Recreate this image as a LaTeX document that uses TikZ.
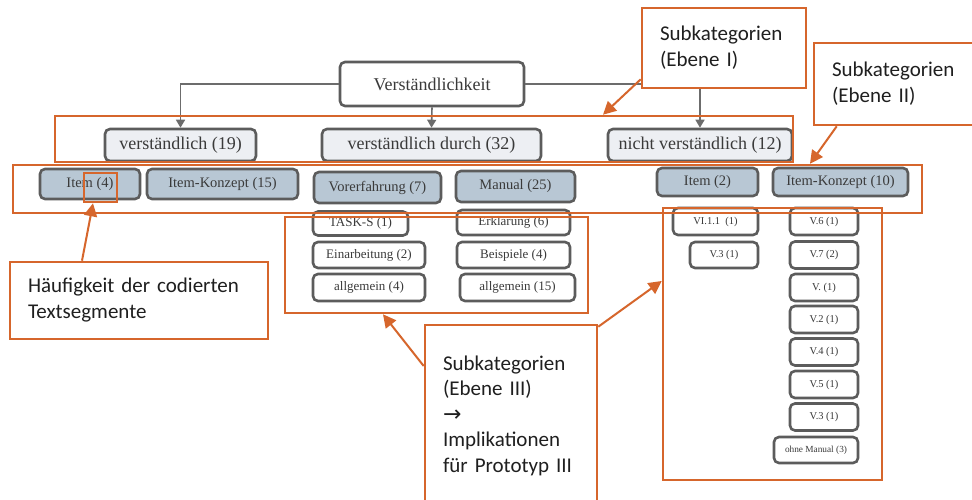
\documentclass[tikz,border=0pt]{standalone}
\usepackage{fontspec}
\setmainfont{Liberation Serif}
\newfontfamily\notefont{Carlito}
\newfontfamily\symfont{DejaVu Sans}
\usetikzlibrary{arrows.meta,calc}

\definecolor{hl}{RGB}{214,102,44}
\definecolor{frame}{RGB}{92,92,92}
\definecolor{pale}{RGB}{237,239,243}
\definecolor{steel}{RGB}{184,199,212}
\definecolor{ink}{RGB}{58,58,58}

\begin{document}
\begin{tikzpicture}[x=1pt,y=-1pt,
  cat/.style={draw=frame, line width=2.6pt, rounded corners=5pt, inner sep=0pt, text=ink},
  root/.style={cat, fill=white, minimum width=184pt, minimum height=44pt, font=\fontsize{18}{20}\selectfont},
  lvone/.style={cat, fill=pale, minimum height=32pt, font=\fontsize{18}{20}\selectfont},
  lvtwo/.style={cat, fill=steel, font=\fontsize{14.5}{16}\selectfont},
  lvthree/.style={cat, fill=white, font=\fontsize{13}{15}\selectfont},
  code/.style={cat, fill=white, minimum width=68pt, minimum height=27pt, font=\fontsize{10.5}{12}\selectfont},
  group/.style={draw=hl, line width=2.6pt, inner sep=0pt},
  note/.style={draw=hl, line width=2.6pt, fill=white, inner xsep=18pt, inner ysep=0pt,
    align=left, text=black!88, font=\notefont\fontsize{21}{26}\selectfont},
  link/.style={draw=frame!90, line width=1.6pt, -{Triangle[width=9pt,length=8pt]}},
  pointer/.style={draw=hl, line width=2pt, -{Triangle[width=13pt,length=13pt]}},
]
\useasboundingbox (0,0) rectangle (972,500);
\clip (0,0) rectangle (972,500);
\fill[white] (0,0) rectangle (972,500);

% root category
\node[root] (top) at (432,84) {Verständlichkeit};

% subcategories, level I
\node[lvone, minimum width=151pt] (v1) at (180.5,145) {verständlich (19)};
\node[lvone, minimum width=219pt] (v2) at (431.5,145) {verständlich durch (32)};
\node[lvone, minimum width=184pt] (v3) at (700,145) {nicht verständlich (12)};

\draw[link] (top.west) -| (v1.north);
\draw[link] (top.south) -- (v2.north);
\draw[link] (top.east) -| (v3.north);

% subcategories, level II
\node[lvtwo, minimum width=100pt, minimum height=30pt] (i4) at (90,184) {Item (4)};
\node[lvtwo, minimum width=151pt, minimum height=30pt] (ik15) at (222.5,184) {Item-Konzept (15)};
\node[lvtwo, minimum width=127pt, minimum height=31pt] (vor7) at (377.5,187.5) {Vorerfahrung (7)};
\node[lvtwo, minimum width=119pt, minimum height=31pt] (man25) at (515.5,186.5) {Manual (25)};
\node[lvtwo, minimum width=101pt, minimum height=28pt] (i2) at (707.5,182) {Item (2)};
\node[lvtwo, minimum width=135pt, minimum height=28pt] (ik10) at (840.5,182) {Item-Konzept (10)};

% subcategories, level III (Vorerfahrung / Manual)
\node[lvthree, minimum width=95pt, minimum height=24pt] (task) at (360.5,223.5) {TASK-S (1)};
\node[lvthree, minimum width=113pt, minimum height=25pt] (erk) at (513.5,222.5) {Erklärung (6)};
\node[lvthree, minimum width=112pt, minimum height=26pt] (ein) at (369,255) {Einarbeitung (2)};
\node[lvthree, minimum width=113pt, minimum height=26pt] (bei) at (513.5,255) {Beispiele (4)};
\node[lvthree, minimum width=112pt, minimum height=27pt] (allg4) at (369,287.5) {allgemein (4)};
\node[lvthree, minimum width=115pt, minimum height=27pt] (allg15) at (517.5,287.5) {allgemein (15)};

% subcategories, level III (Item / Item-Konzept)
\node[code, minimum width=85pt] (vi111) at (715.5,221.5) {VI.1.1\ \ (1)};
\node[code, minimum height=26pt] (v3a) at (724,255) {V.3 (1)};
\node[code] (v6) at (824,221.5) {V.6 (1)};
\node[code] (v7) at (824,255) {V.7 (2)};
\node[code] (vx) at (824,287.5) {V. (1)};
\node[code] (v2c) at (824,319.5) {V.2 (1)};
\node[code] (v4) at (824,352) {V.4 (1)};
\node[code] (v5) at (824,384.5) {V.5 (1)};
\node[code] (v3b) at (824,417) {V.3 (1)};
\node[code, minimum width=84pt, minimum height=26pt, font=\fontsize{9.3}{11}\selectfont] (ohne) at (816,450) {ohne Manual (3)};

% highlighted groups
\node[group, minimum width=738pt, minimum height=46pt] (lev1) at (424,139) {};
\node[group, minimum width=909pt, minimum height=48pt] (lev2) at (467.5,189) {};
\node[group, minimum width=33pt, minimum height=29pt] (r4) at (100.5,187.5) {};
\node[group, minimum width=303pt, minimum height=96pt] (lev3a) at (436.5,265) {};
\node[group, minimum width=219pt, minimum height=272pt] (lev3b) at (772.5,344) {};

% annotations
\node[note, text width=128pt, minimum height=80pt] (e1) at (724,48)
  {Subkategorien\\(Ebene I)};
\node[note, text width=135pt, minimum height=82pt] (e2) at (899.5,84)
  {Subkategorien\\(Ebene II)};
\node[note, text width=222pt, minimum height=77pt] (hf) at (139,300.5)
  {Häufigkeit der codierten\\Textsegmente};
\node[note, text width=136pt, minimum height=181pt, font=\notefont\fontsize{21}{25.5}\selectfont] (e3) at (511,415.5)
  {Subkategorien\\(Ebene III)\\{\symfont\fontsize{22}{25.5}\selectfont →}\\Implikationen\\für Prototyp III};

\draw[pointer] ([yshift=10pt]e1.south west) -- ([xshift=179pt]lev1.north);
\draw[pointer] ([xshift=24pt]e2.south west) -- ([xshift=342.5pt]lev2.north);
\draw[pointer] ([xshift=-57pt]hf.north) -- ([xshift=-7.5pt]r4.south);
\draw[pointer] ([yshift=49.5pt]e3.west) -- ([xshift=-53.5pt]lev3a.south);
\draw[pointer] ([yshift=-3pt]e3.north east) -- ([yshift=63pt]lev3b.west);
\end{tikzpicture}
\end{document}
